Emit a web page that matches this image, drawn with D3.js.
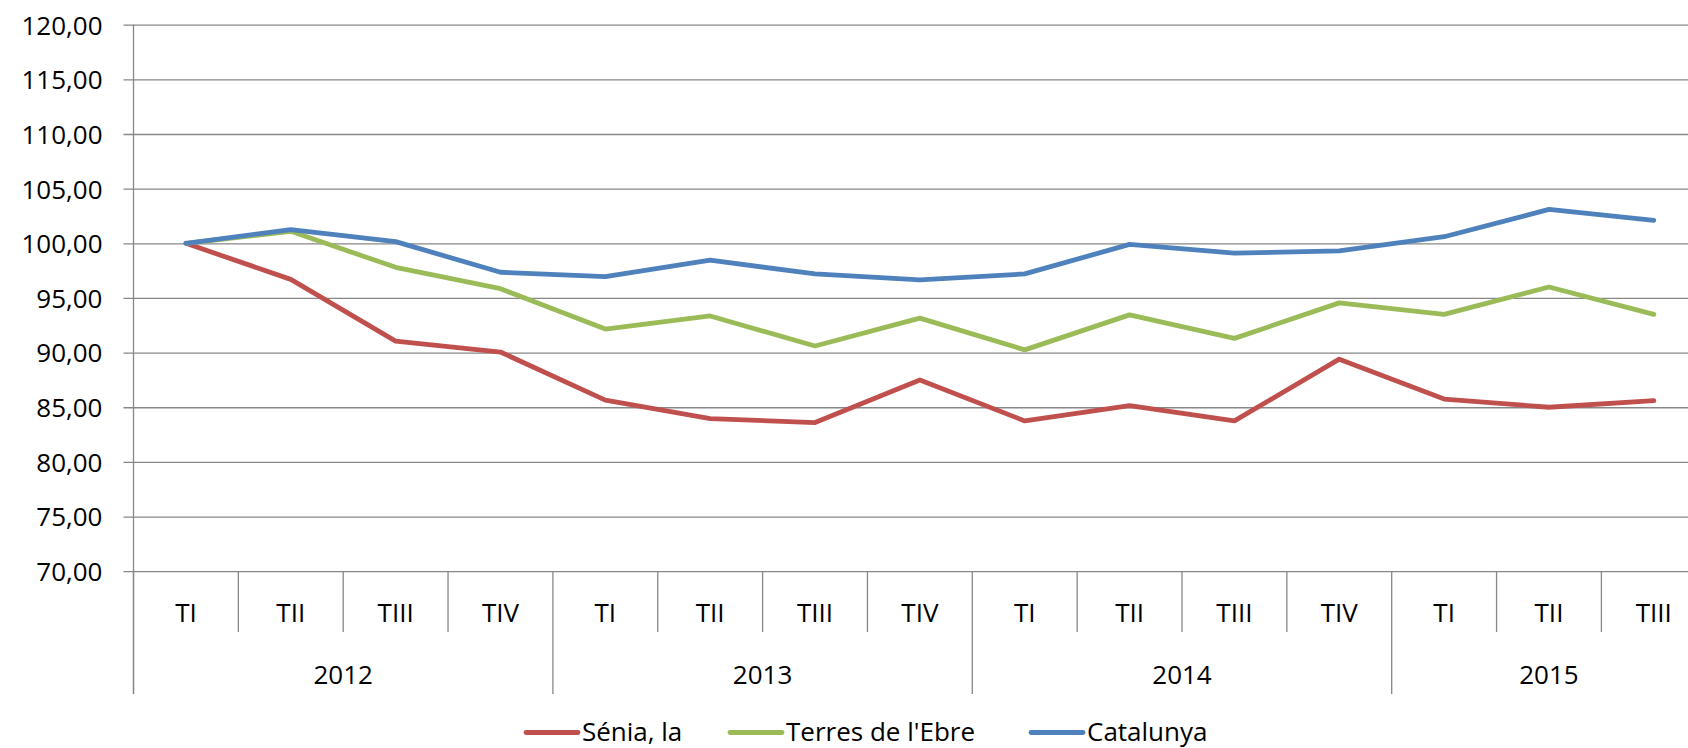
<!DOCTYPE html>
<html>
<head>
<meta charset="utf-8">
<script src="https://cdn.jsdelivr.net/npm/d3@7"></script>
<style>
  html, body { margin: 0; padding: 0; background: #fff; }
  svg { display: block; }
  text { font-family: "Open Sans", "Noto Sans", sans-serif; fill: #000; }
</style>
</head>
<body>
<svg id="chart" width="1688" height="748"></svg>
<script>
// ---- data ----
const quarters = ["TI","TII","TIII","TIV","TI","TII","TIII","TIV","TI","TII","TIII","TIV","TI","TII","TIII"];
const years = ["2012","2013","2014","2015"];
const yearOf = [0,0,0,0,1,1,1,1,2,2,2,2,3,3,3];
const seriesNames = ["Sénia, la", "Terres de l'Ebre", "Catalunya"];
const senia     = [100, 96.7, 91.05, 90.05, 85.65, 83.95, 83.6, 87.5, 83.75, 85.15, 83.75, 89.4, 85.75, 85.0, 85.6];
const terres    = [100, 101.1, 97.8, 95.85, 92.15, 93.35, 90.6, 93.15, 90.25, 93.45, 91.3, 94.55, 93.5, 96.0, 93.5];
const catalunya = [100, 101.25, 100.15, 97.35, 96.95, 98.45, 97.2, 96.65, 97.2, 99.9, 99.1, 99.3, 100.6, 103.1, 102.1];
const yTicks = [70, 75, 80, 85, 90, 95, 100, 105, 110, 115, 120];

const colors = ["#C0504D", "#9BBB59", "#4F81BD"];
const seriesData = [senia, terres, catalunya];

// ---- layout ----
const svg = d3.select("#chart");
const plotLeft = 133.5, plotTop = 24.7, plotBottom = 571.2, band = 104.85;
const gridColor = "#878787";
const fontSize = 26;

const idx = quarters.map((d, i) => i);
const x = d3.scaleBand().domain(idx).range([plotLeft, plotLeft + band * quarters.length]).paddingInner(0).paddingOuter(0);
const y = d3.scaleLinear().domain([70, 120]).range([plotBottom, plotTop]);

// gridlines + y tick marks
const gAxis = svg.append("g")
  .attr("transform", `translate(${plotLeft},0)`)
  .call(d3.axisLeft(y).tickValues(yTicks).tickSize(10).tickPadding(21)
        .tickFormat(d => d3.format(".2f")(d).replace(".", ",")));
gAxis.select(".domain").remove();
gAxis.selectAll(".tick line").attr("stroke", gridColor).attr("stroke-width", 1.3)
  .attr("x1", -10).attr("x2", 1688 - plotLeft);
gAxis.selectAll(".tick text").attr("font-size", fontSize)
  .attr("font-family", "'Open Sans', sans-serif").attr("fill", "#000").attr("dy", "0.36em");

// vertical axis line (extends through category rows)
svg.append("line").attr("x1", plotLeft).attr("x2", plotLeft).attr("y1", plotTop).attr("y2", 694)
  .attr("stroke", gridColor).attr("stroke-width", 1.3);

// category separators
const gCat = svg.append("g");
idx.forEach(i => {
  const xs = x(i);
  const isGroup = i === 0 || yearOf[i] !== yearOf[i - 1];
  gCat.append("line").attr("x1", xs).attr("x2", xs).attr("y1", plotBottom)
    .attr("y2", isGroup ? 694 : 632).attr("stroke", gridColor).attr("stroke-width", 1.3);
});
const xEnd = x(idx[idx.length - 1]) + x.bandwidth();
gCat.append("line").attr("x1", xEnd).attr("x2", xEnd).attr("y1", plotBottom).attr("y2", 694)
  .attr("stroke", gridColor).attr("stroke-width", 1.3);

// quarter labels
gCat.selectAll("text.q").data(idx).enter().append("text")
  .attr("class", "q")
  .attr("x", i => x(i) + x.bandwidth() / 2)
  .attr("y", 622)
  .attr("text-anchor", "middle")
  .attr("font-size", fontSize)
  .text(i => quarters[i]);

// year labels
years.forEach((yr, k) => {
  const members = idx.filter(i => yearOf[i] === k);
  const x0 = x(members[0]);
  const x1 = x(members[members.length - 1]) + x.bandwidth();
  gCat.append("text")
    .attr("x", (x0 + x1) / 2)
    .attr("y", 683.5)
    .attr("text-anchor", "middle")
    .attr("font-size", fontSize)
    .text(yr);
});

// lines
const line = d3.line().x((d, i) => x(i) + x.bandwidth() / 2).y(d => y(d));
seriesData.forEach((s, k) => {
  svg.append("path").datum(s)
    .attr("d", line)
    .attr("fill", "none")
    .attr("stroke", colors[k])
    .attr("stroke-width", 4.8)
    .attr("stroke-linejoin", "round")
    .attr("stroke-linecap", "round");
});

// legend
const legendX = [526, 730, 1031];
const legendY = 732.5;
seriesNames.forEach((name, k) => {
  const g = svg.append("g");
  g.append("line").attr("x1", legendX[k]).attr("x2", legendX[k] + 52)
    .attr("y1", legendY).attr("y2", legendY)
    .attr("stroke", colors[k]).attr("stroke-width", 4.8).attr("stroke-linecap", "round");
  g.append("text").attr("x", legendX[k] + 56).attr("y", legendY + 8.5)
    .attr("font-size", fontSize).text(name);
});
</script>
</body>
</html>
